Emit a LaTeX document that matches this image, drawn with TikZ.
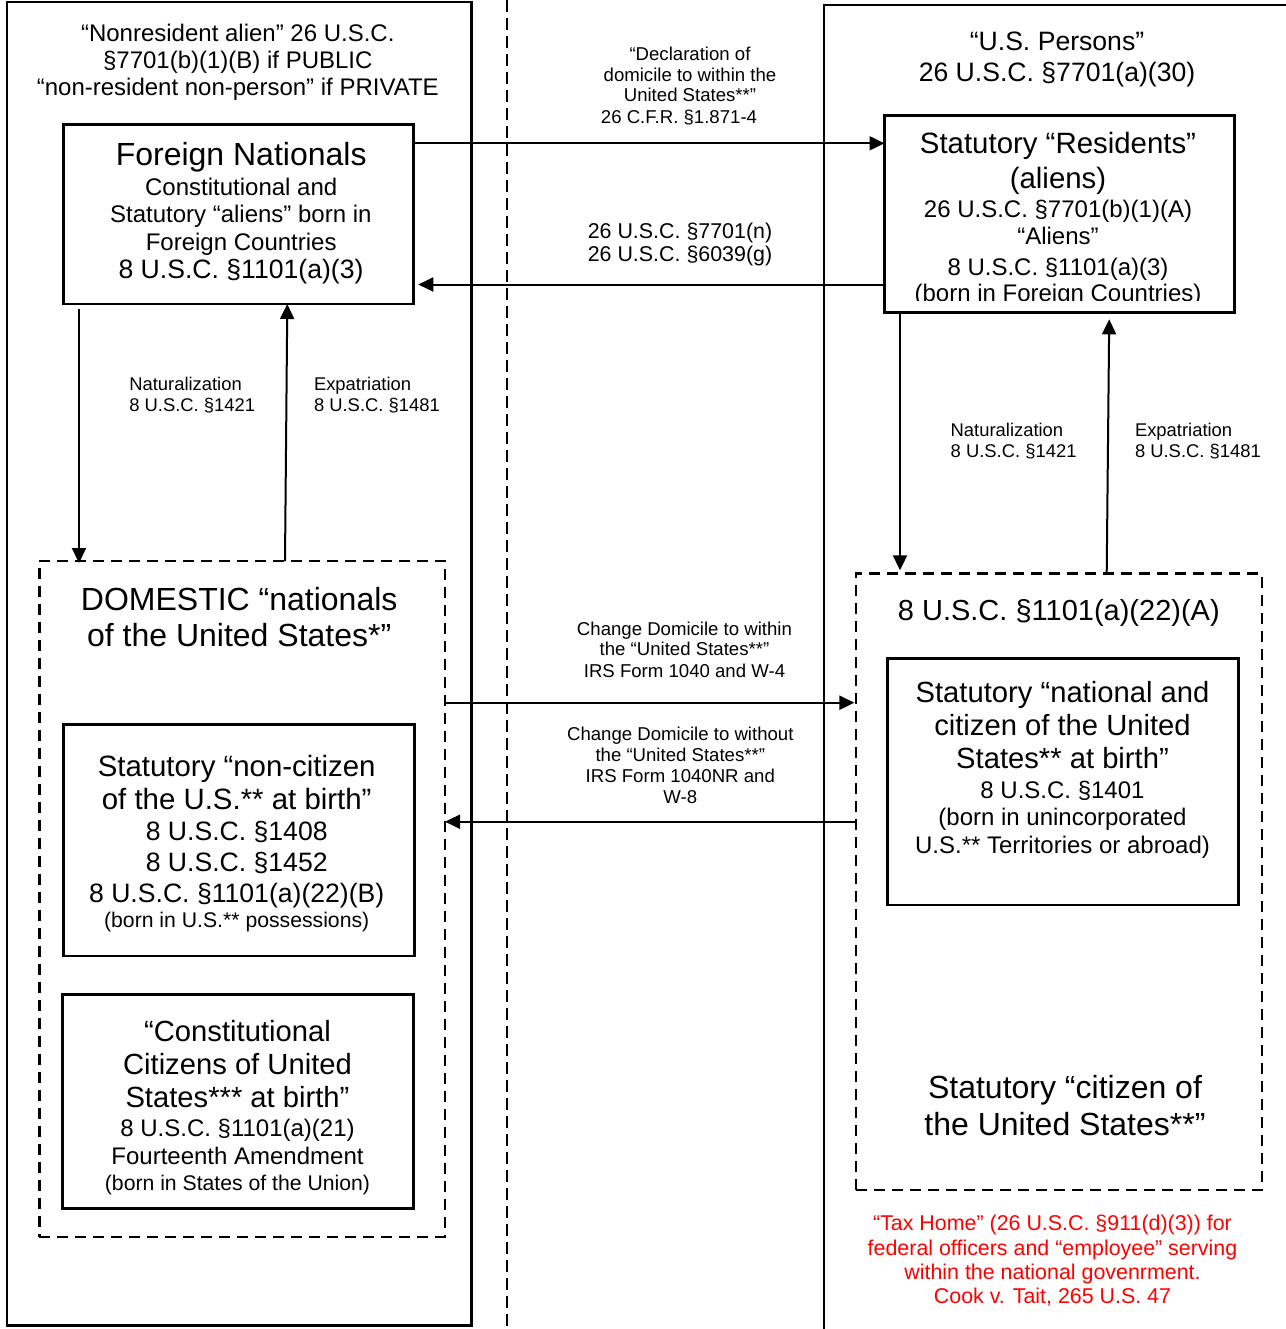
\documentclass[tikz,border=0pt]{standalone}
\usepackage{fontspec}
\setmainfont{Liberation Sans}
\usetikzlibrary{arrows.meta,calc}
\newcommand{\fs}[1]{\fontsize{#1pt}{#1pt}\selectfont}
\tikzset{
  txt/.style={anchor=base,inner sep=0pt,outer sep=0pt},
  ltxt/.style={anchor=base west,inner sep=0pt,outer sep=0pt},
  solidbox/.style={draw,line width=1.3pt,anchor=north west,inner sep=0pt,outer sep=0pt},
  dashbox/.style={draw,line width=1.2pt,dash pattern=on 5.5pt off 3.5pt,anchor=north west,inner sep=0pt,outer sep=0pt},
  arr/.style={line width=1pt,-{Triangle[length=7.5pt,width=7pt]}},
}
\begin{document}
\begin{tikzpicture}[x=0.5pt,y=-0.5pt]
\clip (0,0) rectangle (1286,1329);
\fill[white] (0,0) rectangle (1286,1329);

% outer frames
\node[solidbox,minimum width=232.35pt,minimum height=661.65pt] (lout) at (7,2) {};
\node[solidbox,minimum width=250pt,minimum height=670pt] (rout) at (824,5) {};
\draw[line width=1.2pt,dash pattern=on 6pt off 3pt] (507,0) -- (507,1329);

% boxes
\node[solidbox,minimum width=175pt,minimum height=89.85pt] (fn) at (63.3,124.3) {};
\node[solidbox,minimum width=175pt,minimum height=98.3pt] (res) at (884.5,115.7) {};
\node[dashbox,minimum width=202.85pt,minimum height=337.85pt] (dom) at (39.3,561) {};
\node[dashbox,minimum width=202.85pt,minimum height=308.35pt] (rdom) at (856,573.3) {};
\node[solidbox,minimum width=175.5pt,minimum height=115.85pt] (noncit) at (63.3,724.3) {};
\node[solidbox,minimum width=175.3pt,minimum height=107pt] (concit) at (62.7,994.3) {};
\node[solidbox,minimum width=175.3pt,minimum height=123.35pt] (natcit) at (887.7,658.3) {};

% helper coordinates for connector rows/columns
\coordinate (ya) at (0,143.3);
\coordinate (yb) at (0,284.5);
\coordinate (yc) at (0,702.7);
\coordinate (yd) at (0,821.7);
\coordinate (xa) at (79,0);
\coordinate (xb1) at (285,0);
\coordinate (xb2) at (287.3,0);
\coordinate (xc) at (900,0);
\coordinate (xd1) at (1106.7,0);
\coordinate (xd2) at (1109.3,0);

% connectors
\draw[arr] (fn.east |- ya) -- (res.west |- ya);
\draw[arr,shorten >=2.5pt] (res.west |- yb) -- (fn.east |- yb);
\draw[arr,shorten <=2.5pt,shorten >=-1pt] (fn.south -| xa) -- (dom.north -| xa);
\draw[arr] (dom.north -| xb1) -- (fn.south -| xb2);
\draw[arr,shorten >=1.5pt] (res.south -| xc) -- (rdom.north -| xc);
\draw[arr,shorten >=3.5pt] (rdom.north -| xd1) -- (res.south -| xd2);
\draw[arr,shorten >=0.8pt] (dom.east |- yc) -- (rdom.west |- yc);
\draw[arr] (rdom.west |- yd) -- (dom.east |- yd);

% left title
\node[txt,font=\fs{12}] (lt1) at (237.8,41.7) {“Nonresident alien” 26 U.S.C.};
\node[txt,font=\fs{12}] (lt2) at (237.8,68.3) {§7701(b)(1)(B) if PUBLIC};
\node[txt,font=\fs{12}] (lt3) at (237.8,95.7) {“non-resident non-person” if PRIVATE};

% foreign nationals
\node[txt,font=\fs{16}] (fn1) at (241.2,165.7) {Foreign Nationals};
\node[txt,font=\fs{12}] (fn2) at (241.2,195) {Constitutional and};
\node[txt,font=\fs{12}] (fn3) at (240.8,222.3) {Statutory “aliens” born in};
\node[txt,font=\fs{12}] (fn4) at (241.2,250) {Foreign Countries};
\node[txt,font=\fs{13.3}] (fn5) at (241,278.3) {8 U.S.C. §1101(a)(3)};

% declaration label
\node[txt,font=\fs{9.3}] (dl1) at (690,60) {“Declaration of};
\node[txt,font=\fs{9.3}] (dl2) at (690,81) {domicile to within the};
\node[txt,font=\fs{9.3}] (dl3) at (690,101.7) {United States**”};
\node[txt,font=\fs{9.3}] (dl4) at (679,123.3) {26 C.F.R. §1.871-4};

\node[txt,font=\fs{10.7}] (nl1) at (680,238.3) {26 U.S.C. §7701(n)};
\node[txt,font=\fs{10.7}] (nl2) at (680,261) {26 U.S.C. §6039(g)};

% US persons
\node[txt,font=\fs{13.3}] (up1) at (1057,50) {“U.S. Persons”};
\node[txt,font=\fs{13.3}] (up2) at (1057,81.7) {26 U.S.C. §7701(a)(30)};

% residents
\node[txt,font=\fs{14.7}] (rs1) at (1058,153.5) {Statutory “Residents”};
\node[txt,font=\fs{14.7}] (rs2) at (1058,188.5) {(aliens)};
\node[txt,font=\fs{12}] (rs3) at (1058,217) {26 U.S.C. §7701(b)(1)(A)};
\node[txt,font=\fs{12}] (rs4) at (1058,244) {“Aliens”};
\node[txt,font=\fs{12}] (rs5) at (1058,275.5) {8 U.S.C. §1101(a)(3)};
\begin{scope}
\clip (886,278) rectangle (1232,300.3);
\node[txt,font=\fs{12}] (rs6) at (1058,301.5) {(born in Foreign Countries)};
\end{scope}

% naturalization / expatriation labels
\node[ltxt,font=\fs{9.2}] (lnat1) at (129.3,390.7) {Naturalization};
\node[ltxt,font=\fs{9.2}] (lnat2) at (129.3,411.7) {8 U.S.C. §1421};
\node[ltxt,font=\fs{9.2}] (lexp1) at (314,390.7) {Expatriation};
\node[ltxt,font=\fs{9.2}] (lexp2) at (314,411.7) {8 U.S.C. §1481};
\node[ltxt,font=\fs{9.2}] (rnat1) at (950.7,436.7) {Naturalization};
\node[ltxt,font=\fs{9.2}] (rnat2) at (950.7,457.3) {8 U.S.C. §1421};
\node[ltxt,font=\fs{9.2}] (rexp1) at (1135,436.7) {Expatriation};
\node[ltxt,font=\fs{9.2}] (rexp2) at (1135,457.3) {8 U.S.C. §1481};

% domestic
\node[txt,font=\fs{16}] (dm1) at (239.2,610) {DOMESTIC “nationals};
\node[txt,font=\fs{16}] (dm2) at (239.2,646.7) {of the United States*”};

% non-citizen
\node[txt,font=\fs{14.7}] (nc1) at (236.7,776.7) {Statutory “non-citizen};
\node[txt,font=\fs{14.7}] (nc2) at (236.7,809) {of the U.S.** at birth”};
\node[txt,font=\fs{13.3}] (nc3) at (236.7,840.7) {8 U.S.C. §1408};
\node[txt,font=\fs{13.3}] (nc4) at (236.7,871.7) {8 U.S.C. §1452};
\node[txt,font=\fs{13.3}] (nc5) at (236.7,902.7) {8 U.S.C. §1101(a)(22)(B)};
\node[txt,font=\fs{10.6}] (nc6) at (236.7,927.3) {(born in U.S.** possessions)};

% constitutional citizens
\node[txt,font=\fs{14.6}] (cc1) at (237.5,1041) {“Constitutional};
\node[txt,font=\fs{14.6}] (cc2) at (237.5,1074.3) {Citizens of United};
\node[txt,font=\fs{14.6}] (cc3) at (237.5,1107.7) {States*** at birth”};
\node[txt,font=\fs{12}] (cc4) at (237.5,1136.7) {8 U.S.C. §1101(a)(21)};
\node[txt,font=\fs{12}] (cc5) at (237.5,1164) {Fourteenth Amendment};
\node[txt,font=\fs{10.6}] (cc6) at (237.5,1190) {(born in States of the Union)};

% change domicile labels
\node[txt,font=\fs{9.3}] (cw1) at (684.5,635) {Change Domicile to within};
\node[txt,font=\fs{9.3}] (cw2) at (684.5,655.7) {the “United States**”};
\node[txt,font=\fs{9.3}] (cw3) at (684.5,677.7) {IRS Form 1040 and W-4};
\node[txt,font=\fs{9.3}] (co1) at (680.3,740) {Change Domicile to without};
\node[txt,font=\fs{9.3}] (co2) at (680.3,761) {the “United States**”};
\node[txt,font=\fs{9.3}] (co3) at (680.3,782.7) {IRS Form 1040NR and};
\node[txt,font=\fs{9.3}] (co4) at (680.3,803.3) {W-8};

% right dashed box
\node[txt,font=\fs{14.5}] (rd1) at (1058.8,620.7) {8 U.S.C. §1101(a)(22)(A)};
\node[txt,font=\fs{14.6}] (na1) at (1062.5,702.7) {Statutory “national and};
\node[txt,font=\fs{14.6}] (na2) at (1062.5,735) {citizen of the United};
\node[txt,font=\fs{14.6}] (na3) at (1062.5,768.3) {States** at birth”};
\node[txt,font=\fs{12}] (na4) at (1062.5,798.3) {8 U.S.C. §1401};
\node[txt,font=\fs{12}] (na5) at (1062.5,825.7) {(born in unincorporated};
\node[txt,font=\fs{12}] (na6) at (1062.5,853.3) {U.S.** Territories or abroad)};
\node[txt,font=\fs{16}] (sc1) at (1065,1098.3) {Statutory “citizen of};
\node[txt,font=\fs{16}] (sc2) at (1065,1135) {the United States**”};

% red note
\node[txt,font=\fs{10.7},text=red] (th1) at (1052.5,1230) {“Tax Home” (26 U.S.C. §911(d)(3)) for};
\node[txt,font=\fs{10.7},text=red] (th2) at (1052.5,1255) {federal officers and “employee” serving};
\node[txt,font=\fs{10.7},text=red] (th3) at (1052.5,1279.3) {within the national govenrment.};
\node[txt,font=\fs{10.7},text=red] (th4) at (1052.5,1303.3) {Cook v. Tait, 265 U.S. 47};
\end{tikzpicture}
\end{document}
